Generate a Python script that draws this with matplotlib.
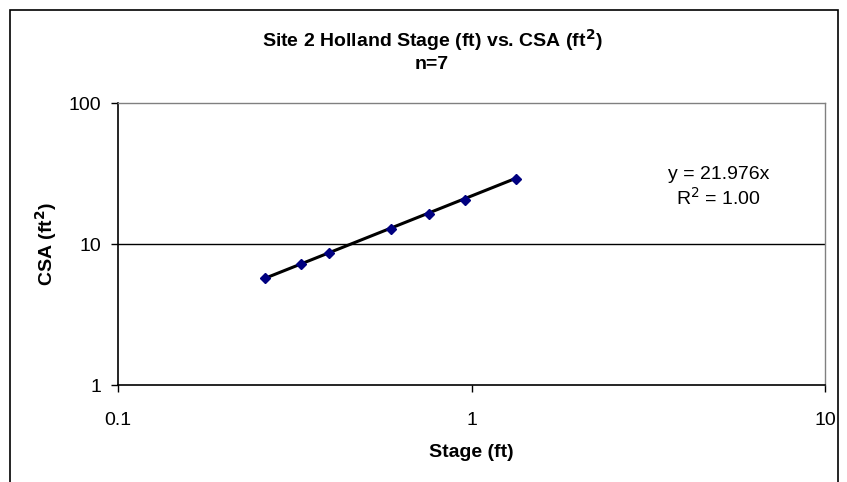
import numpy as np
import matplotlib.pyplot as plt
from matplotlib.patches import Rectangle
from matplotlib.ticker import FixedLocator, FixedFormatter, NullLocator

plt.rcParams['font.family'] = ['Liberation Sans', 'DejaVu Sans']

# data
stage = [0.261, 0.330, 0.395, 0.592, 0.759, 0.959, 1.336]
csa = [5.71, 7.18, 8.59, 12.9, 16.3, 20.5, 28.9]
slope = 21.976

x_ticks = [0.1, 1, 10]
x_labels = ['0.1', '1', '10']
y_ticks = [1, 10, 100]
y_labels = ['1', '10', '100']

fig = plt.figure(figsize=(8.47, 4.82), dpi=100)
ax = fig.add_axes([0.1393, 0.201, 0.835, 0.585])

# outer chart border (bottom edge falls off the image)
fig.patches.append(Rectangle((0.0118, -0.1), 0.977, 1.079, transform=fig.transFigure,
                             fill=False, edgecolor='black', linewidth=1.2))

# trendline y = 21.976x across data range
xs = np.array([min(stage), max(stage)])
ax.plot(xs, slope * xs, color='black', linewidth=2.2, zorder=2)
ax.plot(stage, csa, linestyle='none', marker='D', markersize=5.5,
        color='#000080', zorder=3)

ax.set_xscale('log')
ax.set_yscale('log')
ax.set_xlim(0.1, 10)
ax.set_ylim(1, 100)

ax.xaxis.set_major_locator(FixedLocator(x_ticks))
ax.xaxis.set_major_formatter(FixedFormatter(x_labels))
ax.yaxis.set_major_locator(FixedLocator(y_ticks))
ax.yaxis.set_major_formatter(FixedFormatter(y_labels))
ax.xaxis.set_minor_locator(NullLocator())
ax.yaxis.set_minor_locator(NullLocator())

ax.tick_params(direction='out', length=5, width=1, labelsize=14)
ax.tick_params(axis='x', pad=14)
ax.tick_params(axis='y', pad=7)

ax.axhline(10, color='black', linewidth=1, zorder=1)

for side in ['top', 'right']:
    ax.spines[side].set_color('#808080')
    ax.spines[side].set_linewidth(1)
for side in ['left', 'bottom']:
    ax.spines[side].set_color('black')
    ax.spines[side].set_linewidth(1.2)

ax.set_xlabel('Stage (ft)', fontsize=14, fontweight='bold')
ax.set_ylabel('CSA (ft$^\\mathbf{2}$)', fontsize=14, fontweight='bold')
ax.xaxis.set_label_coords(0.5, -0.21)
ax.yaxis.set_label_coords(-0.083, 0.5)

fig.text(0.51, 0.916, 'Site 2 Holland Stage (ft) vs. CSA (ft$^\\mathbf{2}$)',
         ha='center', va='center', fontsize=14, fontweight='bold')
fig.text(0.51, 0.866, 'n=7', ha='center', va='center', fontsize=14, fontweight='bold')

ax.text(0.848, 0.639, 'y = 21.976x', transform=fig.transFigure, ha='center',
        va='center', fontsize=14)
ax.text(0.848, 0.589, 'R$^2$ = 1.00', transform=fig.transFigure, ha='center',
        va='center', fontsize=14)

fig.savefig('out.png', dpi=100)
